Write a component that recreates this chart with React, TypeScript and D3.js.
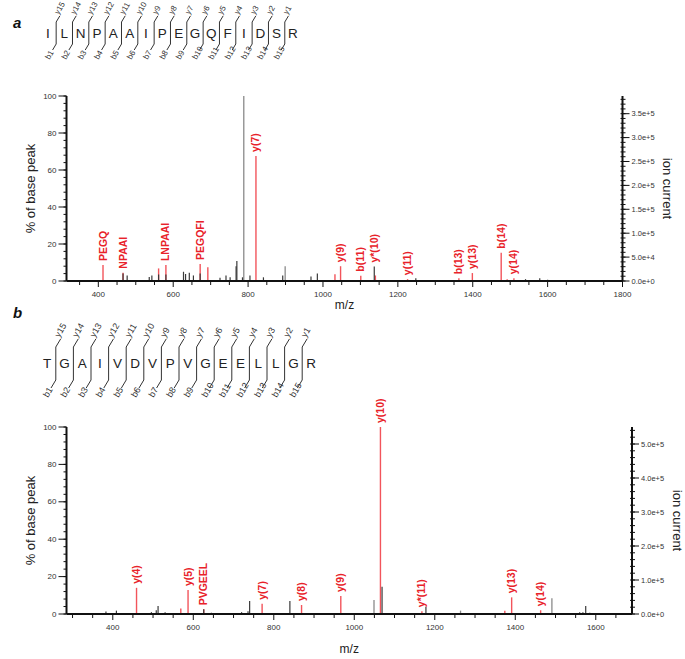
import React from "react";
import * as d3 from "d3";

// ---------- Panel a data ----------
const seqA = ["I","L","N","P","A","A","I","P","E","G","Q","F","I","D","S","R"];
const aRedMz = [412.5, 466, 561, 580.5, 672, 692.5, 821, 1032, 1047, 1101, 1140, 1226, 1363, 1399, 1476, 1492, 1510];
const aRedPct = [8.6, 4.5, 6.8, 8.6, 9.2, 7.4, 67.6, 3.6, 8, 2.9, 3, 1, 1.5, 4.3, 15.3, 1, 1.5];
const aBlackMz = [466, 477, 536, 543, 561, 580.5, 627.5, 633, 643, 654, 672, 725, 741, 752, 768, 770, 785, 805, 841, 892.5, 968, 985, 1137, 1248, 1541, 1579, 1600, 1690, 1750];
const aBlackPct = [4, 3, 2.2, 3, 3.5, 3.5, 5, 3.8, 4.5, 3, 4, 1.8, 3, 2, 8, 10.8, 2, 3, 2, 3, 2.5, 4, 7.8, 1.5, 1, 1.5, 0.7, 0.5, 0.5];
const aGreyMz = [788.5, 899];
const aGreyPct = [100, 8];
const aLabelText = ["PEGQ", "NPAAI", "LNPAAI", "PEGQFI", "y(7)", "y(9)", "b(11)", "y*(10)", "y(11)", "b(13)", "y(13)", "b(14)", "y(14)"];
const aLabelMz = [412.5, 466, 580.5, 672, 821, 1047, 1101, 1137, 1226, 1363, 1399, 1476, 1510];
const aLabelPct = [8.6, 4.5, 8.6, 9.2, 67.6, 8, 2.9, 7.8, 1, 1.5, 4.3, 15.3, 1.5];
const aXTicks = [400, 600, 800, 1000, 1200, 1400, 1600, 1800];
const aRightTicks = [0, 50000, 100000, 150000, 200000, 250000, 300000, 350000];
const aRightLabels = ["0.0e+0", "5.0e+4", "1.0e+5", "1.5e+5", "2.0e+5", "2.5e+5", "3.0e+5", "3.5e+5"];

// ---------- Panel b data ----------
const seqB = ["T","G","A","I","V","D","V","P","V","G","E","E","L","L","G","R"];
const bRedMz = [459, 569, 587, 626, 771, 869, 966.5, 1065, 1168, 1374, 1391, 1463];
const bRedPct = [14, 3, 12.8, 2.5, 5.5, 4.8, 9.6, 100, 1.5, 1.8, 8.9, 2];
const bBlackMz = [383, 409, 425, 440, 496, 508, 512.5, 530, 626, 645, 660, 720, 736, 740, 840, 900, 915, 1069, 1100, 1178, 1480, 1560, 1568, 1575, 1585];
const bBlackPct = [1.3, 1.8, 0.5, 0.5, 1, 2, 4.3, 1, 2.5, 0.7, 0.5, 1, 1.5, 7, 7, 0.5, 0.5, 14.6, 0.5, 3.9, 0.5, 1, 1, 4.3, 0.7];
const bGreyMz = [1049, 1264, 1491];
const bGreyPct = [7.5, 1.8, 8.4];
const bLabelText = ["y(4)", "y(5)", "PVGEEL", "y(7)", "y(8)", "y(9)", "y(10)", "y*(11)", "y(13)", "y(14)"];
const bLabelMz = [459, 587, 626, 771, 869, 966.5, 1065, 1168, 1391, 1463];
const bLabelPct = [14, 12.8, 2.5, 5.5, 4.8, 9.6, 100, 1.5, 8.9, 2];
const bXTicks = [400, 600, 800, 1000, 1200, 1400, 1600];
const bRightTicks = [0, 100000, 200000, 300000, 400000, 500000];
const bRightLabels = ["0.0e+0", "1.0e+5", "2.0e+5", "3.0e+5", "4.0e+5", "5.0e+5"];

const yTicks = [0, 20, 40, 60, 80, 100];

const RED = "#f2545b";
const RED_TEXT = "#e8222a";
const FONT = "Liberation Sans, Arial, sans-serif";

function Sequence({ letters, x0, step, cy, vTop, vBot, diag, tag, tagY, small }) {
  const sx = d3.scaleLinear().domain([0, letters.length - 1]).range([x0, x0 + step * (letters.length - 1)]);
  const n = letters.length;
  return (
    <g>
      <text x={13} y={tagY} fontFamily={FONT} fontWeight="bold" fontStyle="italic" fontSize={15} fill="#111">{tag}</text>
      {letters.map((l, i) => (
        <text key={"l" + i} x={sx(i)} y={cy} textAnchor="middle" dominantBaseline="central" fontFamily={FONT} fontSize={13.5} fill="#222">{l}</text>
      ))}
      {d3.range(n - 1).map((i) => {
        const xm = (sx(i) + sx(i + 1)) / 2;
        return (
          <g key={"s" + i}>
            <path d={`M${xm + diag * 0.6},${vTop - diag} L${xm},${vTop} L${xm},${vBot} L${xm - diag * 0.6},${vBot + diag}`} fill="none" stroke="#333" strokeWidth={1} />
            <text transform={`translate(${xm + diag * 0.6 - 1},${vTop - diag - 1}) rotate(-60)`} fontFamily={FONT} fontSize={small} fill="#333">{"y" + (n - 1 - i)}</text>
            <text transform={`translate(${xm - diag * 0.6 - 3},${vBot + diag + 10}) rotate(-60)`} fontFamily={FONT} fontSize={small} fill="#333">{"b" + (i + 1)}</text>
          </g>
        );
      })}
    </g>
  );
}

function Spectrum({ left, right, top, bottom, domain, xTicks, rightTicks, rightLabels, rightMax, rightMinorStep,
  redMz, redPct, blackMz, blackPct, greyMz, greyPct, labelText, labelMz, labelPct, mzY, ionX }) {
  const x = d3.scaleLinear().domain(domain).range([left, right]);
  const y = d3.scaleLinear().domain([0, 100]).range([bottom, top]);
  const yr = d3.scaleLinear().domain([0, rightMax]).range([bottom, top]);
  const minorX = d3.range(Math.ceil(domain[0] / 50) * 50, domain[1] + 1, 50);
  const minorY = d3.range(0, 101, 4);
  const minorR = d3.range(0, rightMax, rightMinorStep);
  const cy = (top + bottom) / 2;
  return (
    <g>
      {greyMz.map((m, i) => (
        <line key={"g" + i} x1={x(m)} x2={x(m)} y1={y(0)} y2={y(greyPct[i])} stroke="#8a8a8a" strokeWidth={1.3} />
      ))}
      {redMz.map((m, i) => (
        <line key={"r" + i} x1={x(m)} x2={x(m)} y1={y(0)} y2={y(redPct[i])} stroke={RED} strokeWidth={1.4} />
      ))}
      {blackMz.map((m, i) => (
        <line key={"k" + i} x1={x(m)} x2={x(m)} y1={y(0)} y2={y(blackPct[i])} stroke="#3a3a3a" strokeWidth={1.2} />
      ))}
      {labelText.map((t, i) => (
        <text key={"t" + i} transform={`translate(${x(labelMz[i]) + 3.5},${y(labelPct[i]) - 4}) rotate(-90)`} fontFamily={FONT} fontWeight={600} fontSize={10.5} fill={RED_TEXT}>{t}</text>
      ))}
      <line x1={left} x2={right} y1={bottom} y2={bottom} stroke="#111" strokeWidth={2} />
      {minorX.map((v) => (
        <line key={"mx" + v} x1={x(v)} x2={x(v)} y1={bottom} y2={bottom + (v % 200 === 0 ? 6 : 4)} stroke="#111" strokeWidth={1} />
      ))}
      {xTicks.map((v) => (
        <text key={"xt" + v} x={x(v)} y={bottom + 16} textAnchor="middle" fontFamily={FONT} fontSize={8} fill="#333">{v}</text>
      ))}
      <text x={(left + right) / 2} y={mzY} textAnchor="middle" fontFamily={FONT} fontSize={12} fill="#222">m/z</text>
      <line x1={left} x2={left} y1={top} y2={bottom} stroke="#111" strokeWidth={2} />
      {minorY.map((v) => (
        <line key={"my" + v} x1={left - 3} x2={left} y1={y(v)} y2={y(v)} stroke="#111" strokeWidth={1} />
      ))}
      {yTicks.map((v) => (
        <g key={"yt" + v}>
          <line x1={left - 8} x2={left} y1={y(v)} y2={y(v)} stroke="#111" strokeWidth={1} />
          <text x={left - 10} y={y(v)} textAnchor="end" dominantBaseline="central" fontFamily={FONT} fontSize={8} fill="#333">{v}</text>
        </g>
      ))}
      <text transform={`translate(35,${cy}) rotate(-90)`} textAnchor="middle" fontFamily={FONT} fontSize={13} fill="#222">% of base peak</text>
      <line x1={right} x2={right} y1={top} y2={bottom} stroke="#111" strokeWidth={2} />
      {minorR.map((v) => (
        <line key={"mr" + v} x1={right - 2} x2={right + 3} y1={yr(v)} y2={yr(v)} stroke="#111" strokeWidth={1} />
      ))}
      {rightTicks.map((v, i) => (
        <g key={"rt" + v}>
          <line x1={right} x2={right + 7} y1={yr(v)} y2={yr(v)} stroke="#111" strokeWidth={1} />
          <text x={right + 9} y={yr(v)} dominantBaseline="central" fontFamily={FONT} fontSize={7.5} fill="#333">{rightLabels[i]}</text>
        </g>
      ))}
      <text transform={`translate(${ionX},${cy}) rotate(90)`} textAnchor="middle" fontFamily={FONT} fontSize={13} fill="#222">ion current</text>
    </g>
  );
}

export default function App() {
  return (
    <svg width={685} height={659} style={{ position: "absolute", left: 0, top: 0, background: "#fff" }}>
      <Sequence letters={seqA} x0={48} step={16.33} cy={33} vTop={22} vBot={44} diag={6} tag="a" tagY={28} small={8} />
      <Spectrum left={66.5} right={622.5} top={96} bottom={281} domain={[315, 1800]} xTicks={aXTicks}
        rightTicks={aRightTicks} rightLabels={aRightLabels} rightMax={387000} rightMinorStep={10000}
        redMz={aRedMz} redPct={aRedPct} blackMz={aBlackMz} blackPct={aBlackPct} greyMz={aGreyMz} greyPct={aGreyPct}
        labelText={aLabelText} labelMz={aLabelMz} labelPct={aLabelPct} mzY={309} ionX={663} />
      <Sequence letters={seqB} x0={47} step={17.6} cy={363} vTop={347} vBot={380} diag={8} tag="b" tagY={318} small={9} />
      <Spectrum left={66.5} right={632} top={427} bottom={614} domain={[285, 1690]} xTicks={bXTicks}
        rightTicks={bRightTicks} rightLabels={bRightLabels} rightMax={550000} rightMinorStep={20000}
        redMz={bRedMz} redPct={bRedPct} blackMz={bBlackMz} blackPct={bBlackPct} greyMz={bGreyMz} greyPct={bGreyPct}
        labelText={bLabelText} labelMz={bLabelMz} labelPct={bLabelPct} mzY={653} ionX={673} />
    </svg>
  );
}
